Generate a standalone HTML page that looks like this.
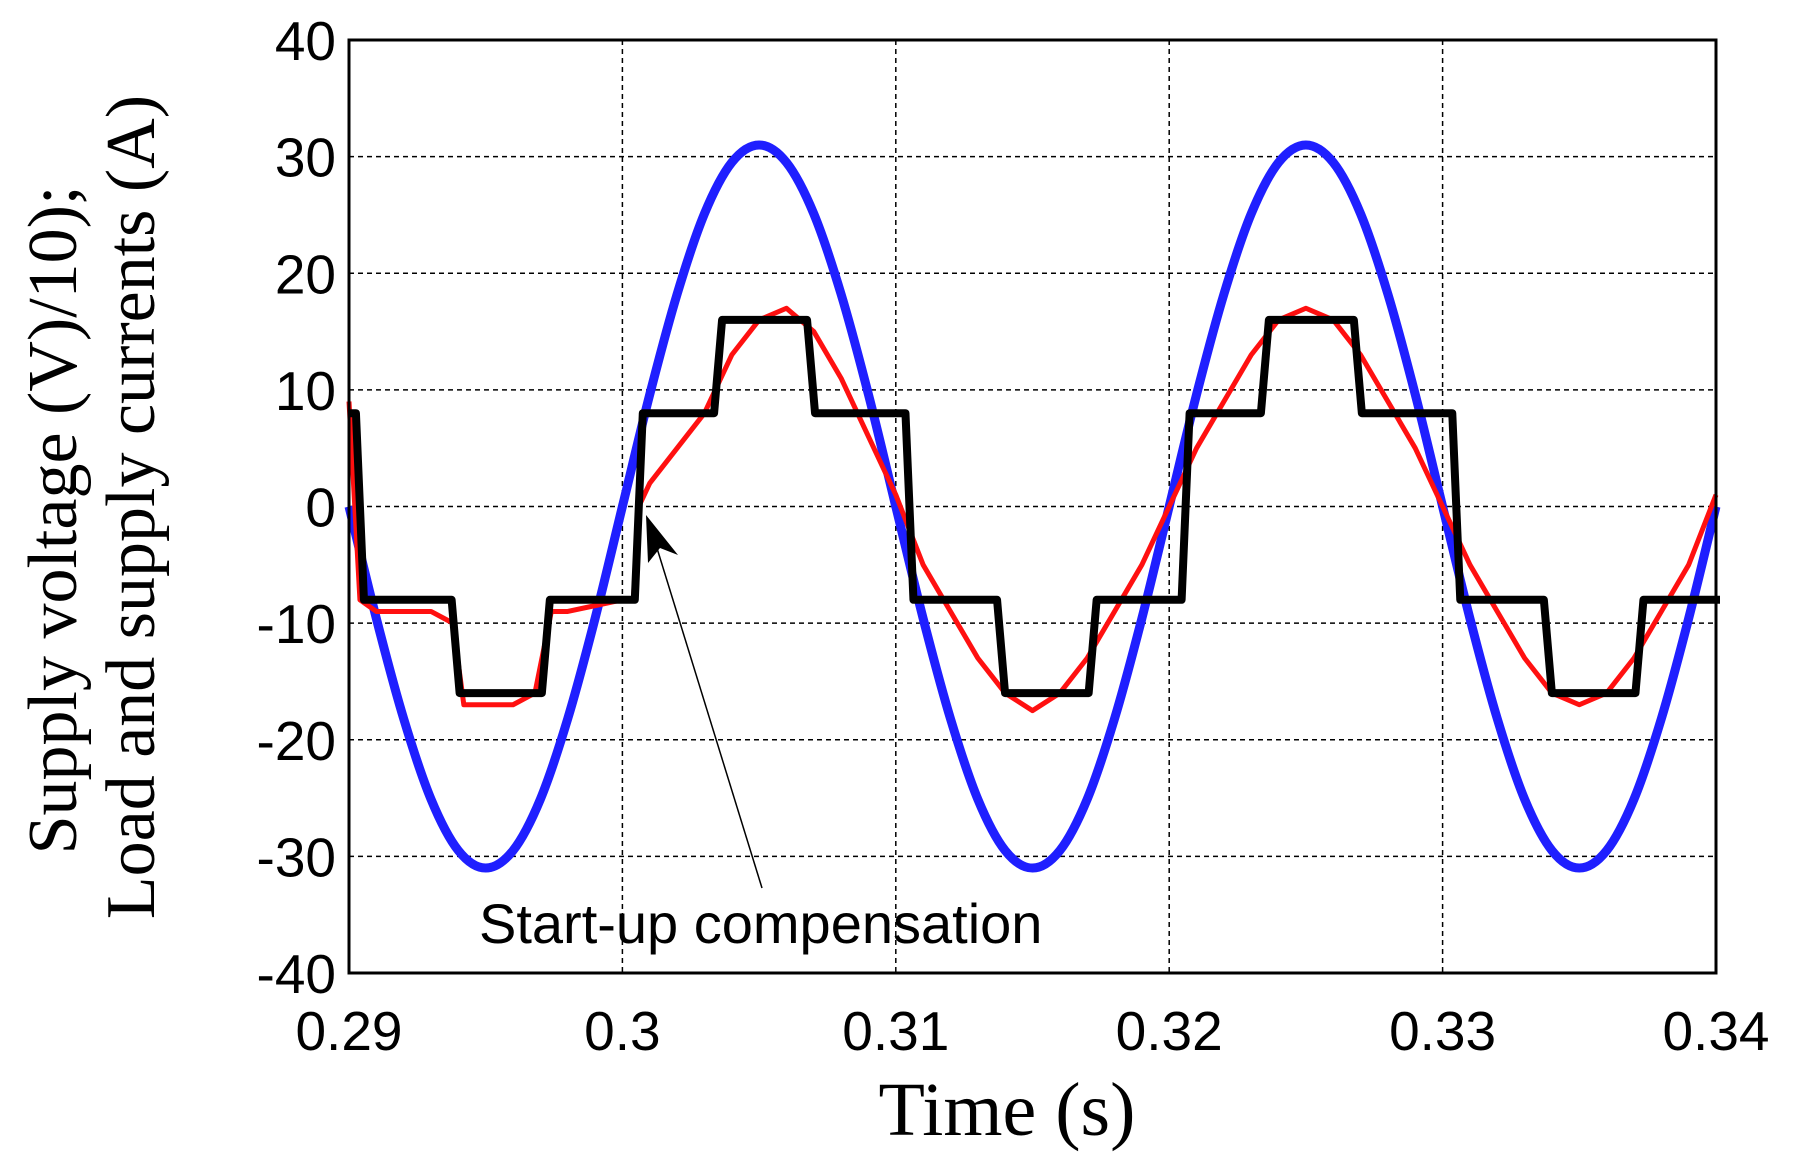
<!DOCTYPE html>
<html><head><meta charset="utf-8"><style>
html,body{margin:0;padding:0;background:#fff;}
svg{display:block;}
</style></head><body>
<svg id="chart" width="1795" height="1176" viewBox="0 0 1795 1176" xmlns="http://www.w3.org/2000/svg">
<g id="grid"></g>
<g id="series"></g>
<rect x="349" y="40" width="1367" height="933" fill="none" stroke="#000" stroke-width="3"/>
<g id="ticks" font-family="Liberation Sans, Arial, sans-serif" font-size="55" fill="#000"></g>
<text x="1007" y="1135" text-anchor="middle" font-family="Liberation Serif, serif" font-size="76">Time (s)</text>
<g font-family="Liberation Serif, serif" font-size="70" text-anchor="middle">
<text transform="translate(76,520) rotate(-90)">Supply voltage (V)/10);</text>
<text transform="translate(154,507) rotate(-90)">Load and supply currents (A)</text>
</g>
<g>
<line x1="762" y1="888" x2="652" y2="532" stroke="#000" stroke-width="1.5"/>
<polygon points="646,515 678,555 660,548 648,563" fill="#000"/>
<text x="479" y="943" font-family="Liberation Sans, Arial, sans-serif" font-size="56">Start-up compensation</text>
</g>
</svg>
<script>
const xTicks=[0.29,0.3,0.31,0.32,0.33,0.34];
const xTickLabels=["0.29","0.3","0.31","0.32","0.33","0.34"];
const yTicks=[40,30,20,10,0,-10,-20,-30,-40];
const yTickLabels=["40","30","20","10","0","-10","-20","-30","-40"];
const sampleTimes=[];for(let i=0;i<=50;i++)sampleTimes.push(+(0.29+i*0.001).toFixed(3));
const blueVoltage=[0,-9.6,-18.2,-25.1,-29.5,-31,-29.5,-25.1,-18.2,-9.6,0,9.6,18.2,25.1,29.5,31,29.5,25.1,18.2,9.6,0,-9.6,-18.2,-25.1,-29.5,-31,-29.5,-25.1,-18.2,-9.6,0,9.6,18.2,25.1,29.5,31,29.5,25.1,18.2,9.6,0,-9.6,-18.2,-25.1,-29.5,-31,-29.5,-25.1,-18.2,-9.6,0];
const redTimes=[0.29,0.2904,0.291,0.292,0.293,0.2938,0.2942,0.295,0.296,0.2968,0.2974,0.298,0.299,0.3,0.3004,0.3006,0.301,0.302,0.303,0.304,0.305,0.306,0.307,0.308,0.309,0.31,0.311,0.312,0.313,0.314,0.315,0.316,0.317,0.318,0.319,0.32,0.321,0.322,0.323,0.324,0.325,0.326,0.327,0.328,0.329,0.33,0.331,0.332,0.333,0.334,0.335,0.336,0.337,0.338,0.339,0.34];
const redLoad=[9,-8,-9,-9,-9,-10,-17,-17,-17,-16,-9,-9,-8.5,-8,-8,0,2,5,8,13,16,17,15,11,6,1,-5,-9,-13,-16,-17.5,-16,-13,-9,-5,0,5,9,13,16,17,16,13,9,5,0,-5,-9,-13,-16,-17,-16,-13,-9,-5,1];
const blackTimes=[0.29,0.2904,0.2939,0.2972,0.3006,0.3035,0.3069,0.3105,0.31385,0.3172,0.3206,0.3235,0.3269,0.3305,0.33385,0.3372,0.34];
const blackLevels=[8,-8,-16,-8,8,16,8,-8,-16,-8,8,16,8,-8,-16,-8,-8];
const X0=349,X1=1716,Y0=973,Y1=40;
const xs=t=>X0+(t-0.29)/0.05*(X1-X0);
const ys=v=>Y0-(v+40)/80*(Y0-Y1);
const NS="http://www.w3.org/2000/svg";
function mk(tag,attrs,parent){const e=document.createElementNS(NS,tag);for(const k in attrs)e.setAttribute(k,attrs[k]);parent.appendChild(e);return e;}
const grid=document.getElementById('grid'),ticks=document.getElementById('ticks'),series=document.getElementById('series');
xTicks.forEach((t,i)=>{
  const l=mk('line',{x1:xs(t),x2:xs(t),y1:Y1,y2:Y0,stroke:'#000','stroke-width':1.5,'stroke-dasharray':'5,4'},grid);
  
  
  const tx=mk('text',{x:xs(t),y:1050,'text-anchor':'middle'},ticks);
  tx.textContent=xTickLabels[i];
  
  
});
yTicks.forEach((v,i)=>{
  const l=mk('line',{x1:X0,x2:X1,y1:ys(v),y2:ys(v),stroke:'#000','stroke-width':1.5,'stroke-dasharray':'5,4'},grid);
  
  
  const tx=mk('text',{x:336,y:ys(v)+20,'text-anchor':'end'},ticks);
  tx.textContent=yTickLabels[i];
  
  
});
function smooth(pts){let d='M'+pts[0][0]+','+pts[0][1];for(let i=0;i<pts.length-1;i++){const p0=pts[i-1]||pts[i],p1=pts[i],p2=pts[i+1],p3=pts[i+2]||p2;d+=' C'+(p1[0]+(p2[0]-p0[0])/6)+','+(p1[1]+(p2[1]-p0[1])/6)+' '+(p2[0]-(p3[0]-p1[0])/6)+','+(p2[1]-(p3[1]-p1[1])/6)+' '+p2[0]+','+p2[1];}return d;}
const blue=mk('path',{d:smooth(sampleTimes.map((t,i)=>[xs(t),ys(blueVoltage[i])])),fill:'none',stroke:'#1f1fff','stroke-width':9},series);


const red=mk('path',{d:'M'+redTimes.map((t,i)=>xs(t)+','+ys(redLoad[i])).join(' L'),fill:'none',stroke:'#ff1010','stroke-width':5,'stroke-linejoin':'round'},series);


let bd='M'+xs(blackTimes[0])+','+ys(blackLevels[0]);
for(let i=1;i<blackTimes.length;i++){const x=xs(blackTimes[i]);bd+=' L'+(x-4)+','+ys(blackLevels[i-1])+' L'+(x+4)+','+ys(blackLevels[i]);}
const black=mk('path',{d:bd,fill:'none',stroke:'#000','stroke-width':8,'stroke-linejoin':'round'},series);


</script>
</body></html>
